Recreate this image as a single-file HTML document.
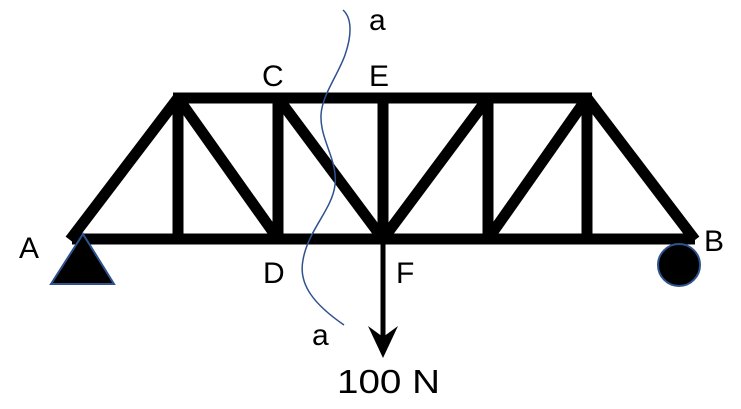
<!DOCTYPE html>
<html><head><meta charset="utf-8"><style>
html,body{margin:0;padding:0;background:#fff;width:741px;height:409px;overflow:hidden}
text{font-family:"Liberation Sans",sans-serif;font-size:30px;fill:#000}
</style></head><body>
<svg width="741" height="409" viewBox="0 0 741 409">
<g stroke="#000" stroke-width="11" fill="none">
<line x1="72" y1="239" x2="695" y2="239"/>
<line x1="173" y1="98" x2="592" y2="98"/>
<line x1="70" y1="240" x2="178" y2="98"/>
<line x1="178" y1="98" x2="178" y2="239"/>
<line x1="178" y1="98" x2="278" y2="239"/>
<line x1="278" y1="98" x2="278" y2="239"/>
<line x1="278" y1="98" x2="383" y2="239"/>
<line x1="383" y1="98" x2="383" y2="239"/>
<line x1="383" y1="239" x2="488" y2="98"/>
<line x1="488" y1="98" x2="488" y2="239"/>
<line x1="488" y1="239" x2="587" y2="98"/>
<line x1="587" y1="98" x2="587" y2="239"/>
<line x1="587" y1="98" x2="695" y2="240"/>
</g>
<polygon points="83,234 51,284 114,284" fill="#000" stroke="#2f528f" stroke-width="2"/>
<circle cx="679" cy="265" r="21" fill="#000" stroke="#2f528f" stroke-width="2"/>
<line x1="383" y1="239" x2="383" y2="340" stroke="#000" stroke-width="5"/>
<polygon points="368,326 383,358 398,326 383,337" fill="#000"/>
<path d="M343,10 C352,18 352,35 345,55 C338,75 322,95 321,115 C320,140 338,160 335,185 C332,210 308,230 303,260 C298,285 315,305 344,325" fill="none" stroke="#2f528f" stroke-width="1.5"/>
<text x="19" y="258">A</text>
<text x="704" y="251">B</text>
<text x="262" y="86">C</text>
<text x="369" y="86">E</text>
<text x="263" y="283">D</text>
<text x="396" y="283">F</text>
<text x="369" y="30">a</text>
<text x="312" y="345">a</text>
<text x="337" y="393" style="font-size:33px" textLength="103" lengthAdjust="spacingAndGlyphs">100 N</text>
</svg>
</body></html>
